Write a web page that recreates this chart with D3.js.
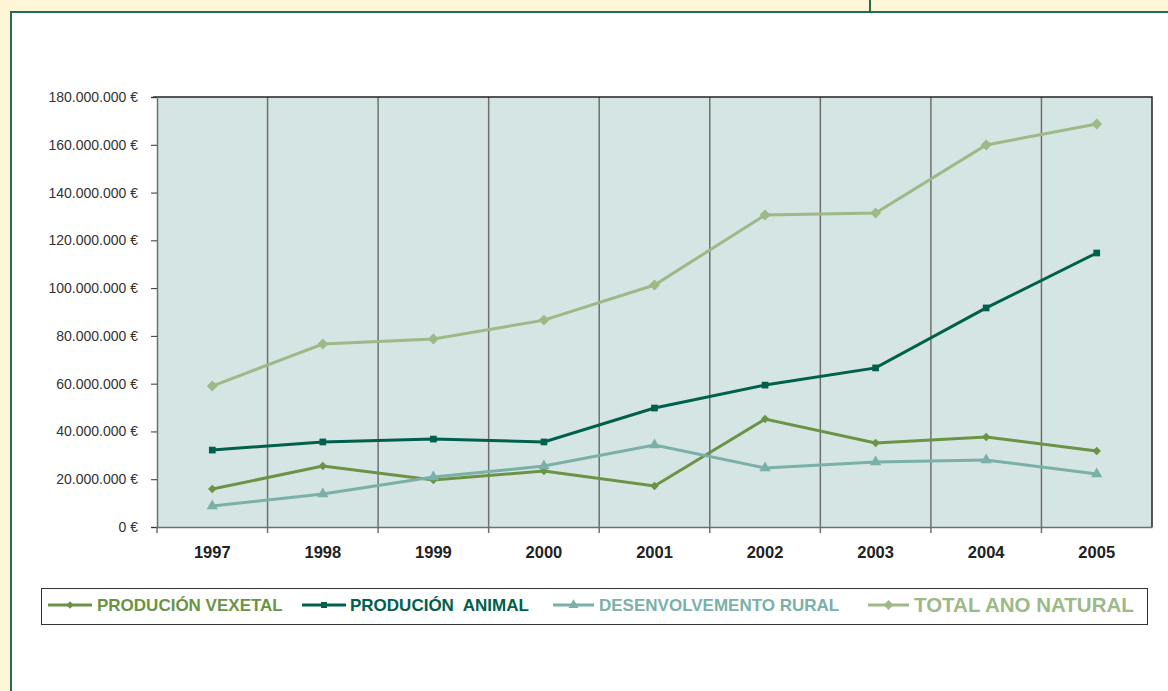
<!DOCTYPE html>
<html>
<head>
<meta charset="utf-8">
<script src="https://cdn.jsdelivr.net/npm/d3@7"></script>
<style>
  body { margin: 0; background: #fff6d8; }
  svg { display: block; font-family: "Liberation Sans", Arial, sans-serif; }
</style>
</head>
<body>
<svg id="chart" width="1168" height="691"></svg>
<script>
const years = ['1997', '1998', '1999', '2000', '2001', '2002', '2003', '2004', '2005'];
const vexetal = [15.9, 25.5, 19.7, 23.4, 17.2, 45.2, 35.2, 37.7, 31.8].map(v => v * 1e6);
const animal = [32.2, 35.6, 36.8, 35.6, 49.8, 59.4, 66.6, 91.7, 114.7].map(v => v * 1e6);
const rural = [8.8, 13.8, 20.9, 25.5, 34.3, 24.7, 27.2, 28.0, 22.2].map(v => v * 1e6);
const total = [59.0, 76.6, 78.7, 86.6, 101.3, 130.6, 131.4, 159.9, 168.7].map(v => v * 1e6);
const yTicks = [0, 20e6, 40e6, 60e6, 80e6, 100e6, 120e6, 140e6, 160e6, 180e6];

// diamonds are squares turned 45 degrees
const series = [
  { name: 'PRODUCIÓN VEXETAL', values: vexetal, color: '#6b9345', symbol: d3.symbolSquare, rot: 45, size: 36, fontSize: 17 },
  { name: 'PRODUCIÓN\u00a0 ANIMAL', values: animal, color: '#00604c', symbol: d3.symbolSquare, rot: 0, size: 45, fontSize: 17 },
  { name: 'DESENVOLVEMENTO RURAL', values: rural, color: '#7ab0a8', symbol: d3.symbolTriangle, rot: 0, size: 55, fontSize: 17 },
  { name: 'TOTAL ANO NATURAL', values: total, color: '#9cb987', symbol: d3.symbolSquare, rot: 45, size: 60, fontSize: 20.5 }
];

const svg = d3.select('#chart');

// white panel with green frame
svg.append('rect').attr('x', 11).attr('y', 12).attr('width', 1170).attr('height', 700)
  .attr('fill', '#fff').attr('stroke', '#1f6f58').attr('stroke-width', 2);
svg.append('line').attr('x1', 870).attr('x2', 870).attr('y1', 0).attr('y2', 12)
  .attr('stroke', '#1f6f58').attr('stroke-width', 2);

const plot = { left: 157, right: 1152, top: 97, bottom: 527 };

const x = d3.scaleBand().domain(years).range([plot.left, plot.right]);
const y = d3.scaleLinear().domain([0, 180e6]).range([plot.bottom, plot.top]);

svg.append('rect')
  .attr('x', plot.left).attr('y', plot.top)
  .attr('width', plot.right - plot.left).attr('height', plot.bottom - plot.top)
  .attr('fill', '#d5e5e3');

// vertical separators
svg.selectAll('.sep')
  .data(years.slice(1))
  .enter()
  .append('line')
    .attr('class', 'sep')
    .attr('x1', d => x(d)).attr('x2', d => x(d))
    .attr('y1', plot.top).attr('y2', plot.bottom + 6)
    .attr('stroke', '#6f6f6f').attr('stroke-width', 1.5);

// top and right border
svg.append('path')
  .attr('d', `M${plot.left - 4},${plot.top}H${plot.right}V${plot.bottom}`)
  .attr('fill', 'none').attr('stroke', '#222').attr('stroke-width', 1.5);

const euro = d => d3.format(',')(d).replace(/,/g, '.') + ' €';

const yAxis = svg.append('g')
  .attr('transform', `translate(${plot.left},0)`)
  .call(d3.axisLeft(y).tickValues(yTicks).tickSize(6).tickPadding(13).tickFormat(euro));
yAxis.select('.domain').attr('stroke', '#6f6f6f').attr('stroke-width', 1.5);
yAxis.selectAll('.tick line').attr('stroke', '#333');
yAxis.selectAll('text').attr('font-size', 14).attr('fill', '#333')
  .attr('font-family', '"Liberation Sans", Arial, sans-serif');

const xAxis = svg.append('g')
  .attr('transform', `translate(0,${plot.bottom})`)
  .call(d3.axisBottom(x).tickSize(0).tickPadding(19));
xAxis.select('.domain').attr('stroke', '#6f6f6f').attr('stroke-width', 1.5);
xAxis.selectAll('text').attr('font-size', 16.5).attr('font-weight', 'bold').attr('fill', '#222')
  .attr('font-family', '"Liberation Sans", Arial, sans-serif');
svg.append('line').attr('x1', plot.left).attr('x2', plot.left)
  .attr('y1', plot.bottom).attr('y2', plot.bottom + 6).attr('stroke', '#6f6f6f').attr('stroke-width', 1.5);

const cx = d => x(d) + x.bandwidth() / 2;
const line = d3.line().x(d => cx(d.year)).y(d => y(d.value));

series.forEach(s => {
  const pts = years.map((yr, i) => ({ year: yr, value: s.values[i] }));
  svg.append('path')
    .datum(pts)
    .attr('d', line)
    .attr('fill', 'none')
    .attr('stroke', s.color)
    .attr('stroke-width', 3);
  svg.selectAll(null)
    .data(pts)
    .enter()
    .append('path')
      .attr('d', d3.symbol().type(s.symbol).size(s.size))
      .attr('transform', d => `translate(${cx(d.year)},${y(d.value)}) rotate(${s.rot})`)
      .attr('fill', s.color);
});

// legend
svg.append('rect').attr('x', 41.5).attr('y', 588.5).attr('width', 1106).attr('height', 36)
  .attr('fill', '#fff').attr('stroke', '#333').attr('stroke-width', 1);

const legendPos = [
  { lx1: 48, lx2: 92, tx: 97 },
  { lx1: 302, lx2: 346, tx: 350 },
  { lx1: 553, lx2: 594, tx: 599 },
  { lx1: 868, lx2: 909, tx: 914 }
];
const legend = svg.selectAll('.legend-entry')
  .data(series)
  .enter()
  .append('g')
  .attr('class', 'legend-entry');
legend.append('line')
  .attr('x1', (d, i) => legendPos[i].lx1).attr('x2', (d, i) => legendPos[i].lx2)
  .attr('y1', 605).attr('y2', 605)
  .attr('stroke', d => d.color).attr('stroke-width', 3);
legend.append('path')
  .attr('d', d => d3.symbol().type(d.symbol).size(d.size * 0.8)())
  .attr('transform', (d, i) => `translate(${(legendPos[i].lx1 + legendPos[i].lx2) / 2},605) rotate(${d.rot})`)
  .attr('fill', d => d.color);
legend.append('text')
  .attr('x', (d, i) => legendPos[i].tx)
  .attr('y', 605)
  .attr('dy', '0.36em')
  .attr('font-size', d => d.fontSize)
  .attr('font-weight', 'bold')
  .attr('fill', d => d.color)
  .style('white-space', 'pre')
  .text(d => d.name);
</script>
</body>
</html>
